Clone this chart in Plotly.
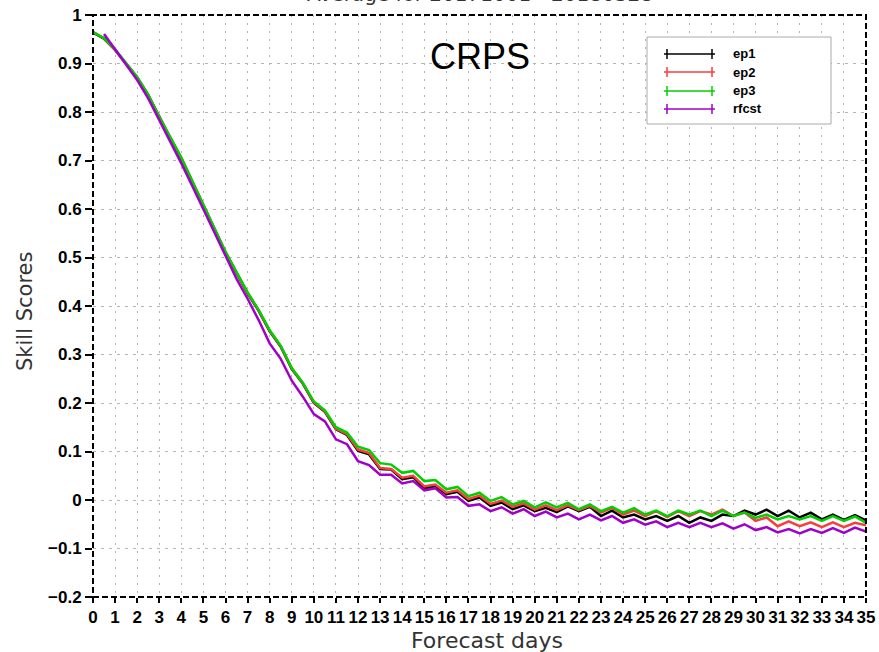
import plotly.graph_objects as go

# Forecast lead time (days), 12-hourly steps
days = [i / 2 for i in range(71)]

ep1 = [0.964, 0.951, 0.928, 0.900, 0.871, 0.835, 0.789, 0.746, 0.704, 0.655,
       0.606, 0.558, 0.510, 0.468, 0.426, 0.390, 0.348, 0.316, 0.270, 0.240,
       0.200, 0.182, 0.146, 0.134, 0.101, 0.094, 0.064, 0.063, 0.043, 0.047,
       0.024, 0.029, 0.012, 0.017, -0.002, 0.005, -0.012, -0.005, -0.019, -0.011,
       -0.023, -0.016, -0.025, -0.013, -0.023, -0.014, -0.033, -0.022, -0.036, -0.030,
       -0.040, -0.033, -0.043, -0.033, -0.047, -0.036, -0.043, -0.030, -0.033, -0.022,
       -0.030, -0.020, -0.033, -0.022, -0.036, -0.026, -0.040, -0.030, -0.041, -0.031,
       -0.042]

ep2 = [0.965, 0.952, 0.928, 0.900, 0.871, 0.835, 0.790, 0.747, 0.705, 0.656,
       0.607, 0.559, 0.511, 0.469, 0.427, 0.391, 0.349, 0.317, 0.271, 0.241,
       0.201, 0.183, 0.147, 0.136, 0.104, 0.097, 0.066, 0.064, 0.046, 0.050,
       0.028, 0.032, 0.015, 0.020, 0.002, 0.009, -0.008, -0.001, -0.014, -0.007,
       -0.020, -0.011, -0.021, -0.011, -0.021, -0.012, -0.026, -0.016, -0.030, -0.022,
       -0.033, -0.023, -0.035, -0.023, -0.033, -0.023, -0.030, -0.020, -0.033, -0.026,
       -0.043, -0.036, -0.054, -0.044, -0.054, -0.046, -0.056, -0.046, -0.056, -0.047,
       -0.052]

ep3 = [0.965, 0.952, 0.929, 0.901, 0.872, 0.836, 0.790, 0.748, 0.706, 0.657,
       0.608, 0.560, 0.512, 0.470, 0.428, 0.392, 0.350, 0.318, 0.272, 0.242,
       0.203, 0.185, 0.150, 0.139, 0.110, 0.103, 0.076, 0.073, 0.056, 0.060,
       0.039, 0.041, 0.022, 0.027, 0.008, 0.015, -0.002, 0.006, -0.009, -0.002,
       -0.015, -0.005, -0.015, -0.006, -0.019, -0.009, -0.023, -0.014, -0.026, -0.017,
       -0.030, -0.022, -0.033, -0.022, -0.030, -0.022, -0.033, -0.022, -0.033, -0.026,
       -0.037, -0.030, -0.040, -0.033, -0.040, -0.033, -0.043, -0.033, -0.043, -0.034,
       -0.047]

# rfcst starts at day 0.5
rfcst = [0.961, 0.930, 0.899, 0.866, 0.828, 0.784, 0.740, 0.694, 0.647,
         0.599, 0.549, 0.503, 0.456, 0.415, 0.371, 0.323, 0.291, 0.246, 0.213,
         0.177, 0.162, 0.125, 0.115, 0.080, 0.072, 0.052, 0.052, 0.034, 0.039,
         0.020, 0.024, 0.005, 0.006, -0.012, -0.009, -0.023, -0.015, -0.028, -0.019,
         -0.033, -0.024, -0.036, -0.028, -0.040, -0.030, -0.042, -0.033, -0.047, -0.040,
         -0.051, -0.044, -0.056, -0.047, -0.056, -0.047, -0.056, -0.048, -0.059, -0.050,
         -0.062, -0.056, -0.067, -0.060, -0.069, -0.060, -0.068, -0.058, -0.068, -0.057,
         -0.065]

series_names = ["ep1", "ep2", "ep3", "rfcst"]
series_colors = ["#000000", "#fa3c3c", "#00d000", "#a000c8"]
series_values = [ep1, ep2, ep3, rfcst]
series_x = [days, days, days, days[1:]]

x_ticks = list(range(36))
y_ticks = [round(-0.2 + 0.1 * i, 1) for i in range(13)]

fig = go.Figure()
for name, color, xs, ys in zip(series_names, series_colors, series_x, series_values):
    fig.add_trace(go.Scatter(x=xs, y=ys, name=name, mode="lines",
                             line=dict(color=color, width=2.5),
                             showlegend=False))

W, H = 879, 652
L, R, T, B = 93, 13, 15, 55
pw, ph = W - L - R, H - T - B


def px(xp):
    return (xp - L) / pw


def py(yp):
    return (H - B - yp) / ph


tick_font = dict(family="Liberation Sans, Arial, sans-serif", size=17, color="#000", weight="bold")
title_font = dict(family="DejaVu Sans, sans-serif", size=22, color="#333")

fig.update_layout(
    width=W, height=H,
    margin=dict(l=L, r=R, t=T, b=B, autoexpand=False),
    plot_bgcolor="white", paper_bgcolor="white",
    xaxis=dict(range=[0, 35], tickvals=x_ticks, ticktext=[str(v) for v in x_ticks],
               ticks="outside", ticklen=5, tickwidth=1.5, tickcolor="#000",
               tickfont=tick_font, showline=False, zeroline=False, automargin=False,
               showgrid=True, gridcolor="#b4b4b4", gridwidth=1, griddash="2px,6px"),
    yaxis=dict(range=[-0.2, 1], tickvals=y_ticks,
               ticktext=[("\u2212" + f"{abs(v):g}") if v < 0 else f"{v:g}" for v in y_ticks],
               ticks="outside", ticklen=7, tickwidth=1.5, tickcolor="#000",
               tickfont=tick_font, showline=False, zeroline=False, automargin=False,
               showgrid=True, gridcolor="#b4b4b4", gridwidth=1, griddash="3px,5px"),
)

# dashed plot frame
fig.add_shape(type="rect", xref="paper", yref="paper", x0=0, y0=0, x1=1, y1=1,
              line=dict(color="#000", width=2, dash="6px,3px"), layer="above")

annotations = [
    dict(text="CRPS", x=px(480), y=py(57), xref="paper", yref="paper",
         showarrow=False, xanchor="center", yanchor="middle",
         font=dict(family="Liberation Sans, Arial, sans-serif", size=36, color="#000")),
    dict(text="Average for 20171001 - 20180328", x=px(480), y=py(8), xref="paper", yref="paper",
         showarrow=False, xanchor="center", yanchor="bottom",
         font=dict(family="DejaVu Sans, sans-serif", size=20, color="#333")),
    dict(text="Forecast days", x=px(487), y=py(640), xref="paper", yref="paper",
         showarrow=False, xanchor="center", yanchor="middle", font=title_font),
    dict(text="Skill Scores", x=px(25), y=py(312), xref="paper", yref="paper",
         showarrow=False, xanchor="center", yanchor="middle", textangle=-90,
         font=dict(family="DejaVu Sans, sans-serif", size=21, color="#333")),
]

# legend box with line samples and cross marks at the ends
shapes = [dict(type="rect", xref="paper", yref="paper",
               x0=px(647), x1=px(831), y0=py(124), y1=py(37),
               line=dict(color="#aaaaaa", width=1), fillcolor="white", layer="above")]
row_y = [54, 72, 91, 109]
for name, color, ry in zip(series_names, series_colors, row_y):
    shapes.append(dict(type="line", xref="paper", yref="paper",
                       x0=px(664), x1=px(715), y0=py(ry), y1=py(ry),
                       line=dict(color=color, width=1.5), layer="above"))
    for ex in (667, 712):
        shapes.append(dict(type="line", xref="paper", yref="paper",
                           x0=px(ex), x1=px(ex), y0=py(ry - 5), y1=py(ry + 5),
                           line=dict(color=color, width=1.5), layer="above"))
    annotations.append(dict(text=name, x=px(731), y=py(ry), xref="paper", yref="paper",
                            showarrow=False, xanchor="left", yanchor="middle",
                            font=dict(family="Liberation Sans, Arial, sans-serif", size=13,
                                      color="#000", weight="bold")))

for s in shapes:
    fig.add_shape(**s)
fig.update_layout(annotations=annotations)

fig.write_html("out.html")
